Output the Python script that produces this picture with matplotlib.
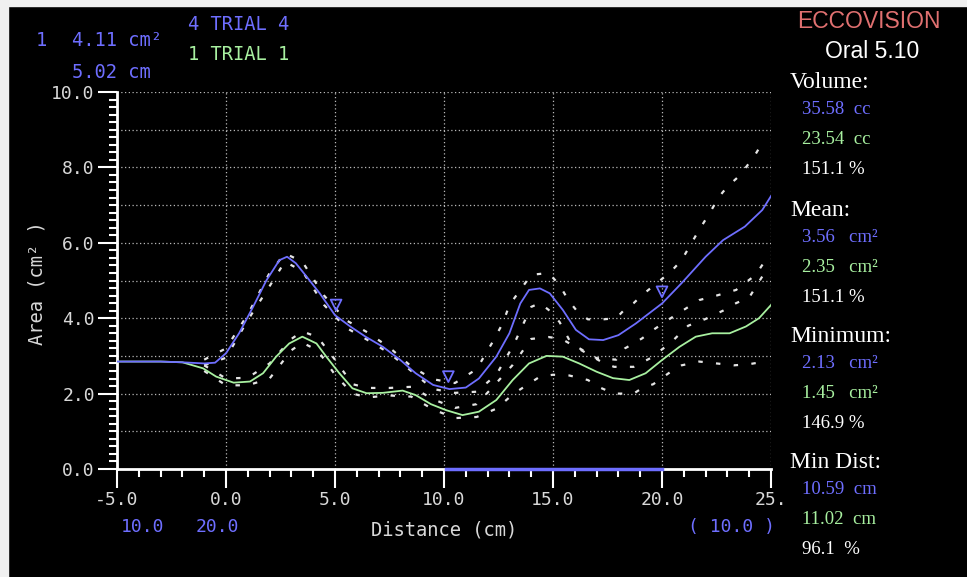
import numpy as np
import matplotlib.pyplot as plt
from matplotlib.patches import Rectangle
from matplotlib.ticker import MultipleLocator

# trial 4 (blue) area curve
blue_x = [-5, -4, -3, -2, -1, -0.5, 0, 0.6, 1.25, 1.85, 2.45, 2.8, 3.2, 3.7, 4.3, 5.0,
          5.7, 6.4, 7.2, 8.0, 8.7, 9.5, 10.25, 11.0, 11.6, 12.4, 13.0, 13.5, 13.9, 14.4,
          14.85, 15.45, 16.05, 16.65, 17.3, 18.0, 18.8, 20.0, 20.9, 22.0, 22.8, 23.8,
          24.6, 25.0]
blue_y = [2.85, 2.85, 2.85, 2.83, 2.8, 2.82, 3.07, 3.6, 4.31, 5.0, 5.54, 5.63, 5.46, 5.1,
          4.66, 4.08, 3.78, 3.51, 3.24, 2.89, 2.54, 2.23, 2.12, 2.16, 2.4, 2.98, 3.6, 4.39,
          4.75, 4.79, 4.66, 4.22, 3.69, 3.44, 3.42, 3.55, 3.86, 4.39, 4.93, 5.63, 6.07,
          6.43, 6.87, 7.24]

# trial 1 (green) area curve
green_x = [-5, -4, -3, -2, -1.05, -0.45, 0.35, 1.1, 1.7, 2.3, 2.9, 3.5, 4.15, 4.6, 5.2,
           5.8, 6.45, 7.2, 8.1, 8.7, 9.4, 10.1, 10.85, 11.6, 12.4, 13.15, 13.9, 14.7,
           15.45, 16.2, 17.0, 17.75, 18.5, 19.25, 20.0, 20.8, 21.55, 22.3, 23.1, 23.85,
           24.45, 25.0]
green_y = [2.85, 2.85, 2.85, 2.83, 2.67, 2.45, 2.29, 2.32, 2.54, 2.98, 3.33, 3.51, 3.33,
           2.98, 2.54, 2.14, 2.01, 2.02, 2.08, 1.96, 1.72, 1.56, 1.43, 1.52, 1.83, 2.36,
           2.8, 3.0, 2.98, 2.8, 2.58, 2.41, 2.36, 2.54, 2.89, 3.24, 3.51, 3.6, 3.6, 3.78,
           4.0, 4.35]

# dotted range bands
blue_hi_x = [-1, 0, 1, 2, 2.7, 3.5, 4.5, 5.5, 6.5, 7.5, 8.5, 9.5, 10.5, 11.5, 12.2, 12.7,
             13.0, 14.0, 14.8, 15.3, 15.7, 16.1, 16.6, 17.3, 17.9, 18.3, 18.7, 19.1, 20.4,
             20.9, 21.7, 22.2, 22.6, 23.0, 23.5, 23.9, 24.3, 24.7]
blue_hi_y = [2.9, 3.2, 4.1, 5.2, 5.72, 5.5, 4.6, 3.95, 3.62, 3.22, 2.72, 2.38, 2.28, 2.65,
             3.34, 3.87, 4.35, 5.15, 5.2, 4.88, 4.48, 4.19, 3.97, 3.97, 4.0, 4.24, 4.4,
             4.62, 5.23, 5.54, 6.34, 6.8, 7.21, 7.49, 7.75, 8.04, 8.36, 8.75]
blue_lo_x = [-1, 0, 1, 2, 2.7, 3.5, 4.5, 5.5, 6.5, 7.5, 8.5, 9.5, 10.5, 11.5, 12.4, 13.2,
             14.0, 14.4, 14.8, 15.3, 15.75, 16.1, 17.0, 17.9, 18.3, 18.7, 19.1, 19.6, 20.4,
             21.7, 22.5, 23.4, 24.3, 24.7]
blue_lo_y = [2.75, 2.95, 3.95, 4.85, 5.5, 5.25, 4.35, 3.75, 3.42, 3.07, 2.6, 2.12, 2.02,
             2.05, 2.5, 3.3, 4.3, 4.4, 4.22, 3.9, 3.42, 3.24, 2.94, 2.9, 3.2, 3.33, 3.47,
             3.69, 4.0, 4.48, 4.6, 4.75, 5.15, 5.5]
green_hi_x = [-1, 0, 1, 2, 3, 3.5, 4.2, 5.0, 5.8, 6.5, 7.5, 8.5, 9.5, 10.5, 11.5, 12.2,
              13.15, 14.0, 14.8, 15.4, 16.0, 16.6, 17.2, 17.8, 18.7, 19.5, 20.4, 21.2,
              22.0, 22.8, 23.4, 24.0, 24.7]
green_hi_y = [2.75, 2.4, 2.42, 2.8, 3.45, 3.65, 3.5, 2.9, 2.25, 2.15, 2.15, 2.18, 1.85,
              1.62, 1.72, 2.15, 2.76, 3.45, 3.5, 3.45, 3.25, 3.05, 2.85, 2.71, 2.71, 2.95,
              3.35, 3.8, 3.98, 4.2, 4.4, 4.55, 5.2]
green_lo_x = [-1, 0, 1, 2, 3, 3.5, 4.2, 5.0, 5.8, 6.5, 7.5, 8.5, 9.5, 10.5, 11.5, 12.4,
              13.2, 14.4, 15.0, 15.75, 16.6, 17.2, 17.8, 18.7, 19.1, 19.6, 20.4, 20.9,
              21.7, 22.5, 23.3, 24.0, 24.7]
green_lo_y = [2.6, 2.22, 2.22, 2.4, 3.15, 3.35, 3.15, 2.5, 2.0, 1.9, 1.95, 1.92, 1.58,
              1.35, 1.38, 1.6, 2.0, 2.45, 2.5, 2.48, 2.36, 2.15, 2.0, 2.0, 2.15, 2.25, 2.58,
              2.75, 2.85, 2.8, 2.75, 2.78, 2.85]

# cursor markers and min-dist window
cursor_x = [5.05, 10.2, 20.0]
cursor_y = [4.35, 2.45, 4.7]
window_x = [10.1, 20.0]

x_ticks = [-5, 0, 5, 10, 15, 20, 25]
x_tick_labels = ['-5.0', '0.0', '5.0', '10.0', '15.0', '20.0', '25.']
y_ticks = [0, 2, 4, 6, 8, 10]
y_tick_labels = ['0.0', '2.0', '4.0', '6.0', '8.0', '10.0']

BLUE = '#6e6eff'
GREEN = '#a8f0a0'
GREY = '#d8d8d8'
BAND = '#e4e4e4'
MONO = 'DejaVu Sans Mono'
SERIF = 'Liberation Serif'

fig = plt.figure(figsize=(9.67, 5.77), dpi=100, facecolor='black')
ax = fig.add_axes([117 / 967, 108 / 577, 654 / 967, 377 / 577])
ax.set_facecolor('black')

# grid
for gy in range(1, 11):
    ax.axhline(gy, color='#b8b8b8', lw=0.9, ls=(0, (1, 2)), zorder=1)
for gx in range(0, 30, 5):
    ax.axvline(gx, color='#b8b8b8', lw=0.9, ls=(0, (1, 2)), zorder=1)

# bands
for bx, by in [(blue_hi_x, blue_hi_y), (blue_lo_x, blue_lo_y),
               (green_hi_x, green_hi_y), (green_lo_x, green_lo_y)]:
    ax.plot(bx, by, color=BAND, lw=1.6, ls=(0, (2, 6)), zorder=2)

ax.plot(green_x, green_y, color=GREEN, lw=1.3, zorder=3)
ax.plot(blue_x, blue_y, color=BLUE, lw=1.3, zorder=4)
ax.plot(window_x, [0, 0], color=BLUE, lw=2.5, zorder=5, clip_on=False)
ax.scatter(cursor_x, cursor_y, marker='v', s=60, facecolors='none',
           edgecolors=BLUE, linewidths=1.3, zorder=5)

ax.set_xlim(-5, 25)
ax.set_ylim(0, 10)
for s in ['top', 'right']:
    ax.spines[s].set_visible(False)
for s in ['left', 'bottom']:
    ax.spines[s].set_color('white')
    ax.spines[s].set_linewidth(2)

ax.set_xticks(x_ticks)
ax.set_xticklabels(x_tick_labels)
ax.set_yticks(y_ticks)
ax.set_yticklabels(y_tick_labels)
ax.xaxis.set_minor_locator(MultipleLocator(1))
ax.yaxis.set_minor_locator(MultipleLocator(0.2))
ax.tick_params(which='major', length=14, width=1.5, color='white', labelcolor=GREY,
               labelsize=13, pad=2)
ax.tick_params(which='minor', length=6, width=1.5, color='white')
for lab in ax.get_xticklabels() + ax.get_yticklabels():
    lab.set_family(MONO)

ax.set_xlabel('Distance (cm)', family=MONO, fontsize=13.5, color=GREY, labelpad=8)
fig.text(37 / 967, 1 - 283 / 577, 'Area (cm² )', family=MONO, fontsize=13.5,
         color=GREY, rotation=90, ha='center', va='center')

# header text
def px(x, y, s, color, size, family=MONO, ha='left', **kw):
    fig.text(x / 967, 1 - y / 577, s, color=color, fontsize=size, family=family,
             ha=ha, va='center', **kw)

px(36, 40, '1', BLUE, 13.5)
px(72, 40, '4.11 cm²', BLUE, 13.5)
px(72, 72, '5.02 cm', BLUE, 13.5)
px(188, 25, '4 TRIAL 4', BLUE, 13.5)
px(188, 55, '1 TRIAL 1', GREEN, 13.5)

px(143, 527, '10.0', BLUE, 13, ha='center')
px(217, 527, '20.0', BLUE, 13, ha='center')
px(732, 527, '( 10.0 )', BLUE, 13, ha='center')

# right panel
px(869, 22, 'ECCOVISION', '#e07070', 16.5, family='Liberation Sans', ha='center')
px(872, 52, 'Oral 5.10', 'white', 16.5, family='Liberation Sans', ha='center')
panel = [
    (83, 'Volume:', 'white', 790, 17),
    (110, '35.58  cc', BLUE, 802, 13.5),
    (140, '23.54  cc', GREEN, 802, 13.5),
    (170, '151.1 %', 'white', 802, 13.5),
    (210, 'Mean:', 'white', 790, 17),
    (237, '3.56   cm²', BLUE, 802, 13.5),
    (267, '2.35   cm²', GREEN, 802, 13.5),
    (297, '151.1 %', 'white', 802, 13.5),
    (337, 'Minimum:', 'white', 790, 17),
    (363, '2.13   cm²', BLUE, 802, 13.5),
    (393, '1.45   cm²', GREEN, 802, 13.5),
    (423, '146.9 %', 'white', 802, 13.5),
    (462, 'Min Dist:', 'white', 790, 17),
    (490, '10.59  cm', BLUE, 802, 13.5),
    (520, '11.02  cm', GREEN, 802, 13.5),
    (549, '96.1  %', 'white', 802, 13.5),
]
for y, s, c, x, size in panel:
    px(x, y, s, c, size, family=SERIF)

# white frame strips at left and top
fig.add_artist(Rectangle((0, 0), 8 / 967, 1, transform=fig.transFigure,
                         color='#f0f0f0', zorder=10))
fig.add_artist(Rectangle((0, 1 - 6 / 577), 1, 6 / 577, transform=fig.transFigure,
                         color='#f0f0f0', zorder=10))

fig.savefig('out.png', dpi=100, facecolor='black')
